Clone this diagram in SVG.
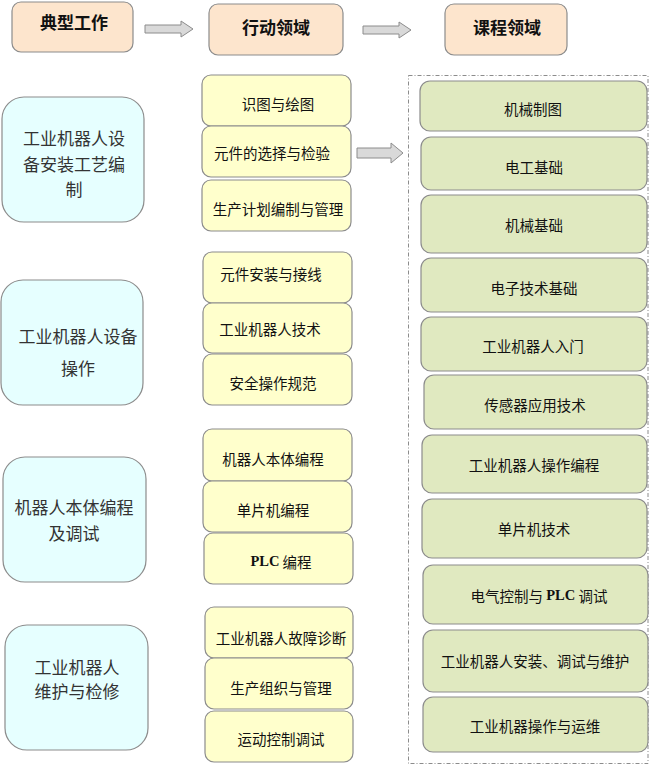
<svg xmlns="http://www.w3.org/2000/svg" width="649" height="765" viewBox="0 0 649 765">
<style>
text{font-family:"Noto Sans CJK SC","Noto Sans",sans-serif;fill:#111;text-anchor:middle;dominant-baseline:central}
.hd rect{fill:#fde5cd;stroke:#8c8c8c;stroke-width:1.2}
.hd text{font-size:17px;font-weight:bold}
.wk rect{fill:#e6ffff;stroke:#8c8c8c;stroke-width:1.2}
.wk text{font-size:17px;fill:#333}
.ac rect{fill:#ffffcc;stroke:#8c8c8c;stroke-width:1.2}
.ac text{font-size:14.5px}
.cr rect{fill:#e0e9c0;stroke:#8c8c8c;stroke-width:1.2}
.cr text{font-size:14.5px}
.arr{fill:#d9d9d9;stroke:#8c8c8c;stroke-width:1}
.lat{font-family:"Liberation Serif",serif;font-weight:bold}
</style>
<rect width="649" height="765" fill="#fff"/>
<g id="connectors">
<polygon class="arr" points="145,25 181,25 181,21 193,29 181,37 181,33 145,33"/>
<polygon class="arr" points="363,26 399,26 399,22 411,30 399,38 399,34 363,34"/>
<polygon class="arr" points="357,148 391,148 391,143 403,153 391,163 391,158 357,158"/>
</g>
<rect id="course-area" x="408.5" y="75.5" width="239.5" height="688" fill="none" stroke="#8c8c8c" stroke-width="1" stroke-dasharray="4 2 1 2"/>
<g id="h1" class="hd"><rect x="12" y="2" width="121" height="50" rx="9"/><text x="74" y="21">典型工作</text></g>
<g id="h2" class="hd"><rect x="209" y="4" width="134" height="51" rx="9"/><text x="276" y="26">行动领域</text></g>
<g id="h3" class="hd"><rect x="445" y="4" width="122" height="51" rx="9"/><text x="507" y="26">课程领域</text></g>

<g id="w1" class="wk"><rect x="2" y="97" width="142" height="125" rx="22"/><text x="74" y="137">工业机器人设</text><text x="74" y="163">备安装工艺编</text><text x="74" y="188">制</text></g>
<g id="w2" class="wk"><rect x="1" y="280" width="142" height="125" rx="22"/><text x="78" y="335">工业机器人设备</text><text x="78" y="367">操作</text></g>
<g id="w3" class="wk"><rect x="3" y="457" width="143" height="125" rx="22"/><text x="74" y="506">机器人本体编程</text><text x="74" y="532">及调试</text></g>
<g id="w4" class="wk"><rect x="5" y="625" width="143" height="125" rx="22"/><text x="77" y="666">工业机器人</text><text x="77" y="690">维护与检修</text></g>

<g id="a1" class="ac"><rect x="202" y="75" width="149" height="51" rx="9"/><text x="278" y="103">识图与绘图</text></g>
<g id="a2" class="ac"><rect x="202" y="126" width="149" height="51" rx="9"/><text x="272" y="152">元件的选择与检验</text></g>
<g id="a3" class="ac"><rect x="202" y="180" width="149" height="51" rx="9"/><text x="278" y="208">生产计划编制与管理</text></g>
<g id="a4" class="ac"><rect x="203" y="252" width="149" height="51" rx="9"/><text x="271" y="273">元件安装与接线</text></g>
<g id="a5" class="ac"><rect x="203" y="303" width="149" height="50" rx="9"/><text x="270" y="328">工业机器人技术</text></g>
<g id="a6" class="ac"><rect x="203" y="354" width="149" height="51" rx="9"/><text x="273" y="382">安全操作规范</text></g>
<g id="a7" class="ac"><rect x="203" y="429" width="149" height="52" rx="9"/><text x="273" y="458">机器人本体编程</text></g>
<g id="a8" class="ac"><rect x="203" y="481" width="149" height="51" rx="9"/><text x="273" y="509">单片机编程</text></g>
<g id="a9" class="ac"><rect x="204" y="533" width="149" height="51" rx="9"/><text x="281" y="561"><tspan class="lat">PLC</tspan> 编程</text></g>
<g id="a10" class="ac"><rect x="205" y="607" width="148" height="51" rx="9"/><text x="281" y="637">工业机器人故障诊断</text></g>
<g id="a11" class="ac"><rect x="205" y="658" width="148" height="51" rx="9"/><text x="281" y="687">生产组织与管理</text></g>
<g id="a12" class="ac"><rect x="205" y="711" width="148" height="51" rx="9"/><text x="281" y="738">运动控制调试</text></g>

<g id="c1" class="cr"><rect x="420" y="81" width="227" height="50" rx="10"/><text x="533" y="108">机械制图</text></g>
<g id="c2" class="cr"><rect x="421" y="137" width="226" height="53" rx="10"/><text x="534" y="166">电工基础</text></g>
<g id="c3" class="cr"><rect x="421" y="195" width="226" height="58" rx="10"/><text x="534" y="224">机械基础</text></g>
<g id="c4" class="cr"><rect x="421" y="258" width="226" height="54" rx="10"/><text x="534" y="287">电子技术基础</text></g>
<g id="c5" class="cr"><rect x="421" y="317" width="226" height="54" rx="10"/><text x="533" y="345">工业机器人入门</text></g>
<g id="c6" class="cr"><rect x="424" y="375" width="223" height="54" rx="10"/><text x="535" y="404">传感器应用技术</text></g>
<g id="c7" class="cr"><rect x="422" y="435" width="225" height="58" rx="10"/><text x="534" y="464">工业机器人操作编程</text></g>
<g id="c8" class="cr"><rect x="422" y="499" width="225" height="59" rx="10"/><text x="534" y="528">单片机技术</text></g>
<g id="c9" class="cr"><rect x="423" y="565" width="225" height="59" rx="10"/><text x="539" y="595">电气控制与 <tspan class="lat">PLC</tspan> 调试</text></g>
<g id="c10" class="cr"><rect x="423" y="630" width="225" height="62" rx="10"/><text x="535" y="660">工业机器人安装、调试与维护</text></g>
<g id="c11" class="cr"><rect x="423" y="697" width="225" height="55" rx="10"/><text x="535" y="725">工业机器操作与运维</text></g>
</svg>
